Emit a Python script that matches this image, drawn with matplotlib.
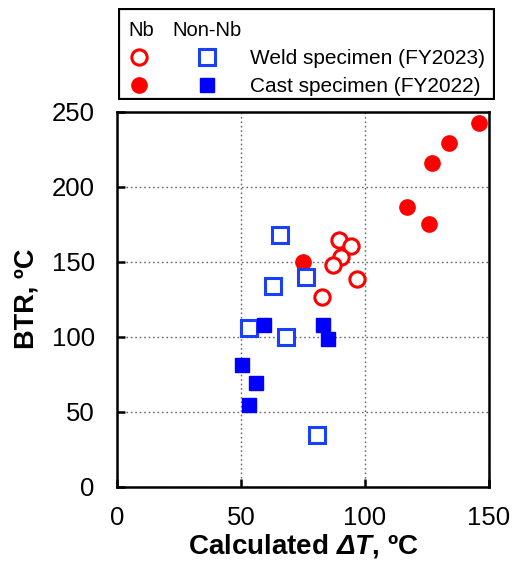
import matplotlib.pyplot as plt
from matplotlib.patches import Rectangle

plt.rcParams["font.family"] = ["Liberation Sans", "DejaVu Sans"]
plt.rcParams["mathtext.fontset"] = "custom"
# only the ΔT in the x label uses mathtext, and it should be bold italic throughout
plt.rcParams["mathtext.it"] = "Liberation Sans:italic:bold"
plt.rcParams["mathtext.rm"] = "Liberation Sans:italic:bold"

# Nb, weld specimen (open circles)
nb_weld_dt = [89.4, 94.2, 90.4, 87.0, 96.7, 82.7]
nb_weld_btr = [164.5, 160.7, 153.3, 148.0, 138.5, 126.3]

# Nb, cast specimen (filled circles)
nb_cast_dt = [146.0, 133.8, 127.2, 116.9, 125.9, 74.9]
nb_cast_btr = [242.7, 229.3, 216.0, 186.3, 175.3, 149.8]

# Non-Nb, weld specimen (open squares)
non_weld_dt = [65.9, 76.3, 63.0, 53.2, 68.0, 80.6]
non_weld_btr = [167.8, 140.0, 134.0, 106.0, 99.6, 34.3]

# Non-Nb, cast specimen (filled squares)
non_cast_dt = [59.1, 83.0, 85.0, 50.4, 56.2, 53.2]
non_cast_btr = [107.8, 107.8, 98.5, 81.1, 68.9, 54.5]

x_ticks = [0, 50, 100, 150]
y_ticks = [0, 50, 100, 150, 200, 250]

red = "#ff0000"
blue_open = "#1a40ff"
blue_fill = "#0000ff"

fig = plt.figure(figsize=(5.12, 5.62), dpi=100)
ax = fig.add_axes([117 / 512, (562 - 486.7) / 562, 372 / 512, 375 / 562])

ax.plot(nb_cast_dt, nb_cast_btr, "o", ms=11, color=red, mec=red, zorder=3)
ax.plot(nb_weld_dt, nb_weld_btr, "o", ms=11, mfc="white", mec=red, mew=2.2, zorder=3)
ax.plot(non_weld_dt, non_weld_btr, "s", ms=11, mfc="white", mec=blue_open, mew=2.2, zorder=3)
ax.plot(non_cast_dt, non_cast_btr, "s", ms=10.5, color=blue_fill, mec=blue_fill, zorder=3)

ax.set_xlim(0, 150)
ax.set_ylim(0, 250)
ax.set_xticks(x_ticks)
ax.set_yticks(y_ticks)
ax.grid(True, ls=(0, (1.2, 2.0)), color="#666666", lw=1.0)
ax.tick_params(direction="in", length=6, width=1.8, labelsize=18.5, top=False, right=False)
ax.tick_params(axis="y", pad=16)
ax.tick_params(axis="x", pad=14)
for s in ax.spines.values():
    s.set_linewidth(1.8)

ax.set_xlabel("Calculated $\\Delta T$, ºC", fontsize=20, fontweight="bold", labelpad=1)
ax.set_ylabel("BTR, ºC", fontsize=19.5, fontweight="bold", labelpad=9)

# legend drawn in its own box
lg = fig.add_axes([118 / 512, (562 - 100) / 562, 377 / 512, 92 / 562])
lg.set_xlim(0, 377)
lg.set_ylim(92, 0)
lg.axis("off")
lg.add_patch(Rectangle((1, 1), 375, 90, fill=False, lw=1.6, ec="black"))
lg.text(23, 22, "Nb", fontsize=14.5, ha="center", va="center")
lg.text(89, 22, "Non-Nb", fontsize=14.5, ha="center", va="center")
lg.plot([21], [49], "o", ms=11, mfc="white", mec=red, mew=2.2)
lg.plot([21], [77], "o", ms=11, color=red)
lg.plot([89], [49], "s", ms=11, mfc="white", mec=blue_open, mew=2.2)
lg.plot([89], [77], "s", ms=10.5, color=blue_fill)
lg.text(132, 50, "Weld specimen (FY2023)", fontsize=15, ha="left", va="center")
lg.text(132, 78, "Cast specimen (FY2022)", fontsize=15, ha="left", va="center")

fig.savefig("out.png", dpi=100)
